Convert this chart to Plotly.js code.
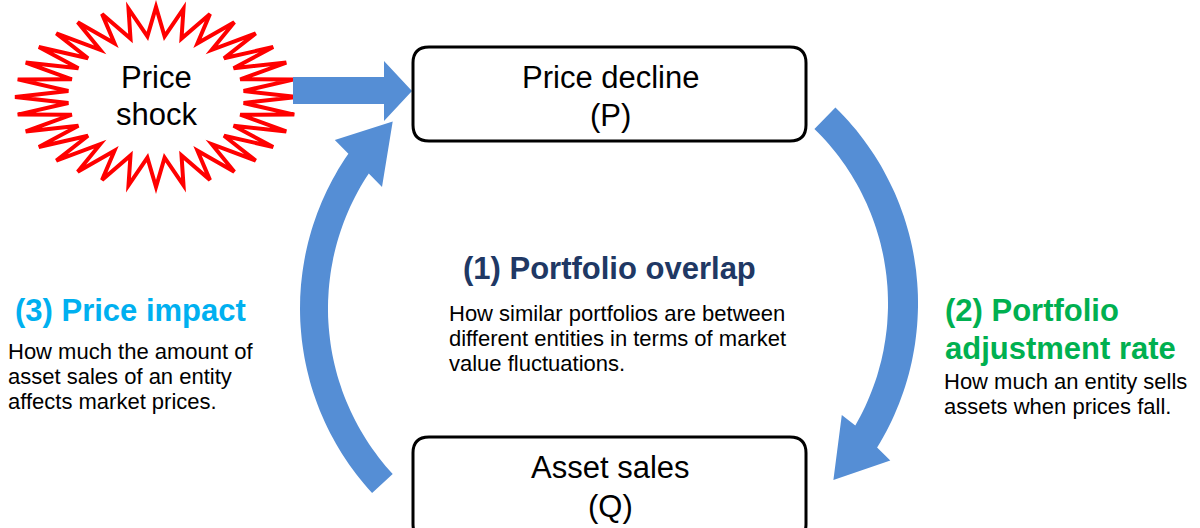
<!DOCTYPE html>
<html>
<head>
<meta charset="utf-8">
<script src="https://cdn.plot.ly/plotly-3.0.1.min.js"></script>
<style>html,body{margin:0;padding:0;background:#fff;}#chart{width:1200px;height:528px;}</style>
</head>
<body>
<div id="chart"></div>
<script>
// ---- Content (text) ----
const topBoxLines = ["Price decline", "(P)"];
const bottomBoxLines = ["Asset sales", "(Q)"];
const shockLines = ["Price", "shock"];
const headings = ["(1) Portfolio overlap", "(2) Portfolio", "adjustment rate", "(3) Price impact"];
const headingColors = ["#203864", "#00B050", "#00B050", "#00B0F0"];
const centerDesc = ["How similar portfolios are between", "different entities in terms of market", "value fluctuations."];
const rightDesc = ["How much an entity sells", "assets when prices fall."];
const leftDesc = ["How much the amount of", "asset sales of an entity", "affects market prices."];

// ---- Layout geometry (pixel coordinates of the diagram) ----
const FONT = "Liberation Sans, Arial, sans-serif";
const BLUE = "#558ED5";
const deg = Math.PI / 180;
function pt(cx, cy, r, a) { return [cx + r * Math.cos(a * deg), cy + r * Math.sin(a * deg)]; }
function arc(cx, cy, r, a0, a1, n) {
  const out = [];
  for (let i = 0; i <= n; i++) out.push(pt(cx, cy, r, a0 + (a1 - a0) * i / n));
  return out;
}
function pathFrom(pts) {
  return "M" + pts.map(p => p[0].toFixed(1) + "," + p[1].toFixed(1)).join(" L") + " Z";
}
function curvedArrow(g) {
  let pts = arc(g.cx, g.cy, g.rOut, g.tail, g.notchOut, 60);
  pts.push(pt(g.cx, g.cy, g.barbOutR, g.barbOutA));
  pts.push(pt(g.cx, g.cy, g.tipR, g.tipA));
  pts.push(pt(g.cx, g.cy, g.barbInR, g.barbInA));
  pts = pts.concat(arc(g.cx, g.cy, g.rIn, g.notchIn, g.tail, 60));
  return pathFrom(pts);
}
function roundRect(x0, y0, x1, y1, r) {
  return `M${x0 + r},${y0} L${x1 - r},${y0} Q${x1},${y0} ${x1},${y0 + r} L${x1},${y1 - r} Q${x1},${y1} ${x1 - r},${y1} ` +
         `L${x0 + r},${y1} Q${x0},${y1} ${x0},${y1 - r} L${x0},${y0 + r} Q${x0},${y0} ${x0 + r},${y0} Z`;
}
function starPath(cx, cy, rxo, ryo, rxi, ryi, n) {
  const pts = [];
  for (let i = 0; i < 2 * n; i++) {
    const a = i * 180 / n * deg;
    const outer = i % 2 === 0;
    pts.push([cx + (outer ? rxo : rxi) * Math.cos(a), cy + (outer ? ryo : ryi) * Math.sin(a)]);
  }
  return pathFrom(pts);
}

const rightArrow = {cx: 644, cy: 303.5, rOut: 274, rIn: 244, tail: -45.7, notchOut: 31.7, notchIn: 30,
  barbOutR: 292, barbOutA: 32.5, tipR: 259, tipA: 43, barbInR: 227, barbInA: 29.4};
const leftArrow = {cx: 572, cy: 308.5, rOut: 272, rIn: 244, tail: 137.3, notchOut: 214.7, notchIn: 213.6,
  barbOutR: 291, barbOutA: 215.4, tipR: 259, tipA: 226.2, barbInR: 225.5, barbInA: 212.6};

const shapes = [
  {type: "path", path: starPath(156, 97, 141, 90, 88, 61, 32), line: {color: "#FF0000", width: 4}, fillcolor: "#FFFFFF"},
  {type: "path", path: "M293,77 L384,77 L384,61 L412,91 L384,121 L384,104 L293,104 Z", line: {width: 0}, fillcolor: BLUE},
  {type: "path", path: curvedArrow(rightArrow), line: {width: 0}, fillcolor: BLUE},
  {type: "path", path: curvedArrow(leftArrow), line: {width: 0}, fillcolor: BLUE},
  {type: "path", path: roundRect(413, 47, 806, 141, 16), line: {color: "#000000", width: 3}, fillcolor: "#FFFFFF"},
  {type: "path", path: roundRect(413, 437, 806, 540, 16), line: {color: "#000000", width: 3}, fillcolor: "#FFFFFF"}
].map(s => Object.assign({xref: "x", yref: "y", layer: "above"}, s));

function txt(text, x, y, size, color, xanchor, bold) {
  return {text: bold ? "<b>" + text + "</b>" : text, x: x, y: y, xref: "x", yref: "y", showarrow: false,
    xanchor: xanchor, yanchor: "middle", align: xanchor === "center" ? "center" : "left",
    font: {family: FONT, size: size, color: color}};
}
const annotations = [];
const boxY = [77, 115];
topBoxLines.forEach((t, i) => annotations.push(txt(t, 610, boxY[i], 31, "#000", "center", false)));
const boxY2 = [467, 506];
bottomBoxLines.forEach((t, i) => annotations.push(txt(t, 610, boxY2[i], 31, "#000", "center", false)));
const shockY = [77, 114];
shockLines.forEach((t, i) => annotations.push(txt(t, 156, shockY[i], 31, "#000", "center", false)));
annotations.push(txt(headings[0], 609, 268, 31, headingColors[0], "center", true));
annotations.push(txt(headings[1], 943, 310, 31, headingColors[1], "left", true));
annotations.push(txt(headings[2], 943, 348, 31, headingColors[2], "left", true));
annotations.push(txt(headings[3], 13, 310, 31, headingColors[3], "left", true));
const cy0 = [313, 338, 363];
centerDesc.forEach((t, i) => annotations.push(txt(t, 447, cy0[i], 22, "#000", "left", false)));
const ry0 = [381, 406];
rightDesc.forEach((t, i) => annotations.push(txt(t, 942, ry0[i], 22, "#000", "left", false)));
const ly0 = [351, 376, 401];
leftDesc.forEach((t, i) => annotations.push(txt(t, 6, ly0[i], 22, "#000", "left", false)));

const layout = {
  width: 1200, height: 528,
  margin: {l: 0, r: 0, t: 0, b: 0, pad: 0},
  paper_bgcolor: "#FFFFFF", plot_bgcolor: "#FFFFFF",
  xaxis: {range: [0, 1200], visible: false, fixedrange: true},
  yaxis: {range: [528, 0], visible: false, fixedrange: true},
  showlegend: false,
  shapes: shapes,
  annotations: annotations
};
Plotly.newPlot("chart", [{x: [], y: [], type: "scatter", hoverinfo: "skip"}], layout, {staticPlot: true, displayModeBar: false});
</script>
</body>
</html>
